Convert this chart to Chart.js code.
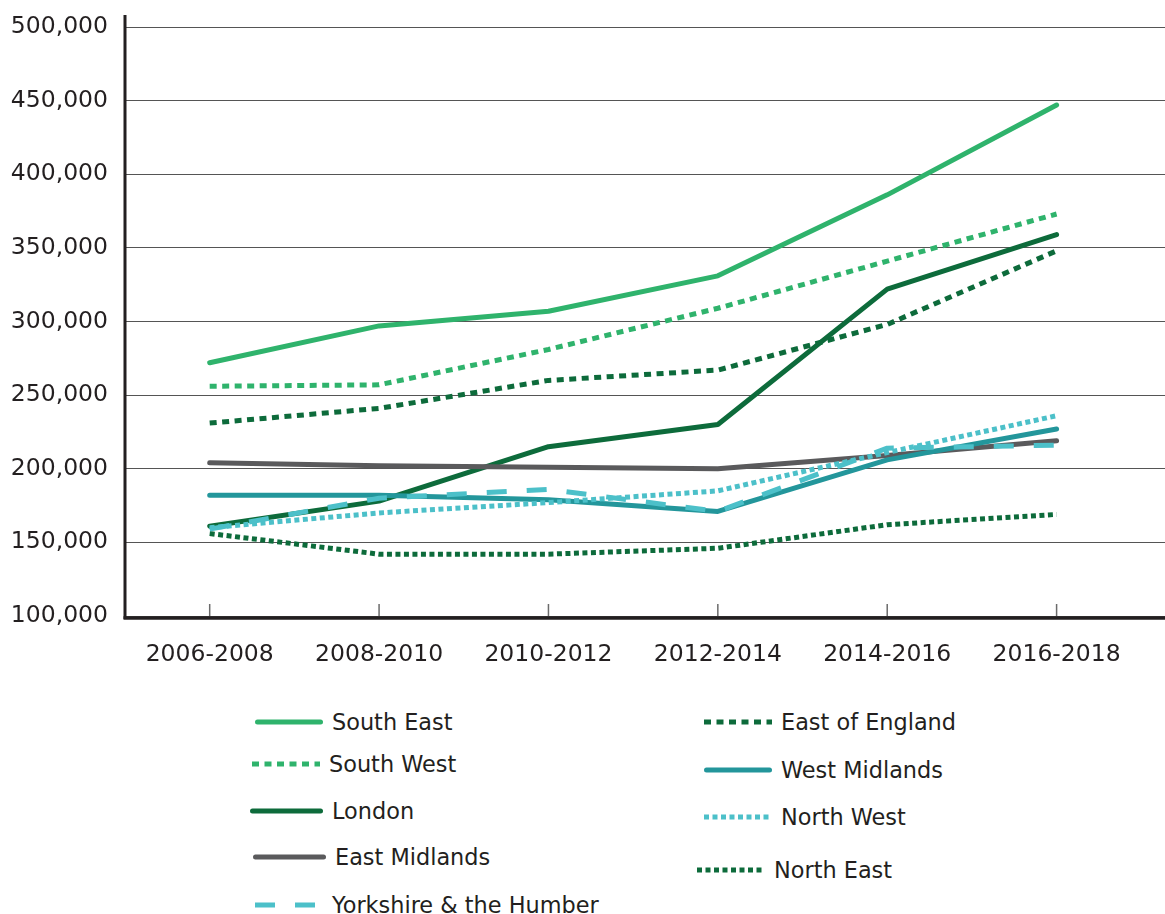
<!DOCTYPE html>
<html>
<head>
<meta charset="utf-8">
<script src="https://cdn.jsdelivr.net/npm/chart.js@4.4.1/dist/chart.umd.min.js"></script>
<style>
  html, body { margin: 0; padding: 0; background: #ffffff; }
  body { width: 1165px; height: 914px; position: relative; overflow: hidden; font-family: "DejaVu Sans", sans-serif; color: #231f20; }
  #wrap { position: absolute; left: 0; top: 0; width: 1165px; height: 690px; }
  .lg { position: absolute; display: flex; align-items: center; font-size: 22.4px; color: #231f20; white-space: nowrap; }
  .lg svg { display: block; margin-right: 9px; }
</style>
</head>
<body>
<div id="wrap"><canvas id="c"></canvas></div>
<div id="legend"></div>
<script>
// ---- data ----
const periods = ['2006-2008', '2008-2010', '2010-2012', '2012-2014', '2014-2016', '2016-2018'];
const southEast    = [272000, 297000, 307000, 331000, 386000, 447000];
const southWest    = [256000, 257000, 281000, 309000, 341000, 373000];
const london       = [161000, 178000, 215000, 230000, 322000, 359000];
const eastMidlands = [204000, 202000, 201000, 200000, 209000, 219000];
const yorkshire    = [159000, 180000, 186000, 171000, 214000, 216000];
const eastEngland  = [231000, 241000, 260000, 267000, 298000, 348000];
const westMidlands = [182000, 182000, 179000, 171000, 206000, 227000];
const northWest    = [160000, 170000, 177000, 185000, 211000, 236000];
const northEast    = [156000, 142000, 142000, 146000, 162000, 169000];
const yTicks = [100000, 150000, 200000, 250000, 300000, 350000, 400000, 450000, 500000];

// ---- styles ----
const GREEN = '#2fb36c', DARK = '#0d6b3b', GREY = '#5a5a5c', TEAL = '#23969b', CYAN = '#4cc0c9';
const series = [
  { label: 'Yorkshire & the Humber', data: yorkshire,    color: CYAN,  dash: [20, 20], cap: 'butt' },
  { label: 'North West',             data: northWest,    color: CYAN,  dash: [5, 3.5], cap: 'butt' },
  { label: 'West Midlands',          data: westMidlands, color: TEAL,  dash: [],       cap: 'round' },
  { label: 'East Midlands',          data: eastMidlands, color: GREY,  dash: [],       cap: 'round' },
  { label: 'London',                 data: london,       color: DARK,  dash: [],       cap: 'round' },
  { label: 'North East',             data: northEast,    color: DARK,  dash: [5, 3.5], cap: 'butt' },
  { label: 'East of England',        data: eastEngland,  color: DARK,  dash: [7, 5.5], cap: 'butt' },
  { label: 'South West',             data: southWest,    color: GREEN, dash: [7, 5.5], cap: 'butt' },
  { label: 'South East',             data: southEast,    color: GREEN, dash: [],       cap: 'round' }
];

const datasets = series.map(s => ({
  label: s.label,
  data: s.data.map((v, i) => ({ x: i, y: v })),
  borderColor: s.color,
  backgroundColor: s.color,
  borderWidth: 5,
  borderDash: s.dash,
  borderCapStyle: s.cap,
  borderJoinStyle: 'round',
  pointRadius: 0,
  tension: 0,
  fill: false
}));

const axisPlugin = {
  id: 'axisLines',
  beforeDatasetsDraw(chart) {
    const { ctx, chartArea } = chart;
    const xs = chart.scales.x;
    ctx.save();
    ctx.strokeStyle = '#6b6b6b';
    ctx.lineWidth = 1.5;
    periods.forEach((p, i) => {
      const px = xs.getPixelForValue(i);
      ctx.beginPath();
      ctx.moveTo(px, chartArea.bottom - 12);
      ctx.lineTo(px, chartArea.bottom);
      ctx.stroke();
    });
    ctx.strokeStyle = '#231f20';
    ctx.lineWidth = 3;
    ctx.beginPath();
    ctx.moveTo(chartArea.left, chartArea.top - 12);
    ctx.lineTo(chartArea.left, chartArea.bottom + 3);
    ctx.stroke();
    ctx.lineWidth = 3.5;
    ctx.beginPath();
    ctx.moveTo(chartArea.left - 1.5, chartArea.bottom + 2);
    ctx.lineTo(chartArea.right, chartArea.bottom + 2);
    ctx.stroke();
    ctx.restore();
  }
};

new Chart(document.getElementById('c'), {
  type: 'line',
  data: { datasets },
  options: {
    responsive: true,
    maintainAspectRatio: false,
    animation: false,
    events: [],
    layout: { padding: { top: 27, right: 0, left: 0, bottom: 0 } },
    plugins: { legend: { display: false }, tooltip: { enabled: false } },
    scales: {
      x: {
        type: 'linear',
        min: -0.5,
        max: 5.64,
        afterBuildTicks: (sc) => { sc.ticks = periods.map((p, i) => ({ value: i })); },
        afterFit: (sc) => { sc.height = 74; sc.paddingLeft = 0; sc.paddingRight = 0; },
        grid: { display: false, drawTicks: false },
        border: { display: false },
        ticks: {
          autoSkip: false,
          maxRotation: 0,
          padding: 25,
          color: '#231f20',
          font: { family: 'DejaVu Sans', size: 23.5 },
          callback: (v) => periods[v]
        }
      },
      y: {
        type: 'linear',
        min: 100000,
        max: 500000,
        afterBuildTicks: (sc) => { sc.ticks = yTicks.map(v => ({ value: v })); },
        afterFit: (sc) => { sc.width = 125; sc.paddingTop = 0; sc.paddingBottom = 0; },
        grid: { color: '#555555', lineWidth: 1, drawTicks: false },
        border: { display: false },
        ticks: {
          padding: 17,
          color: '#231f20',
          font: { family: 'DejaVu Sans', size: 23.5 },
          callback: (v) => v.toLocaleString('en-US')
        }
      }
    }
  },
  plugins: [axisPlugin]
});

// ---- HTML legend ----
const legendLayout = [
  { label: 'South East',             x: 255, y: 722, w: 68 },
  { label: 'South West',             x: 252, y: 764, w: 68 },
  { label: 'London',                 x: 250, y: 811, w: 73 },
  { label: 'East Midlands',          x: 253, y: 857, w: 73 },
  { label: 'Yorkshire & the Humber', x: 255, y: 905, w: 68 },
  { label: 'East of England',        x: 704, y: 722, w: 68 },
  { label: 'West Midlands',          x: 704, y: 770, w: 68 },
  { label: 'North West',             x: 704, y: 817, w: 68 },
  { label: 'North East',             x: 697, y: 870, w: 68 }
];
const lg = document.getElementById('legend');
legendLayout.forEach(item => {
  const s = series.find(d => d.label === item.label);
  const div = document.createElement('div');
  div.className = 'lg';
  div.style.left = item.x + 'px';
  div.style.top = (item.y - 14) + 'px';
  div.style.height = '28px';
  const dash = s.dash.length ? s.dash.join(' ') : 'none';
  div.innerHTML = '<svg width="' + item.w + '" height="10"><line x1="' + (s.cap === 'round' ? 2.5 : 0) + '" y1="5" x2="' + (item.w - (s.cap === 'round' ? 2.5 : 0)) + '" y2="5" stroke="' + s.color + '" stroke-width="5" stroke-linecap="' + s.cap + '" stroke-dasharray="' + dash + '"/></svg>';
  const span = document.createElement('span');
  span.textContent = item.label;
  div.appendChild(span);
  lg.appendChild(div);
});
</script>
</body>
</html>
